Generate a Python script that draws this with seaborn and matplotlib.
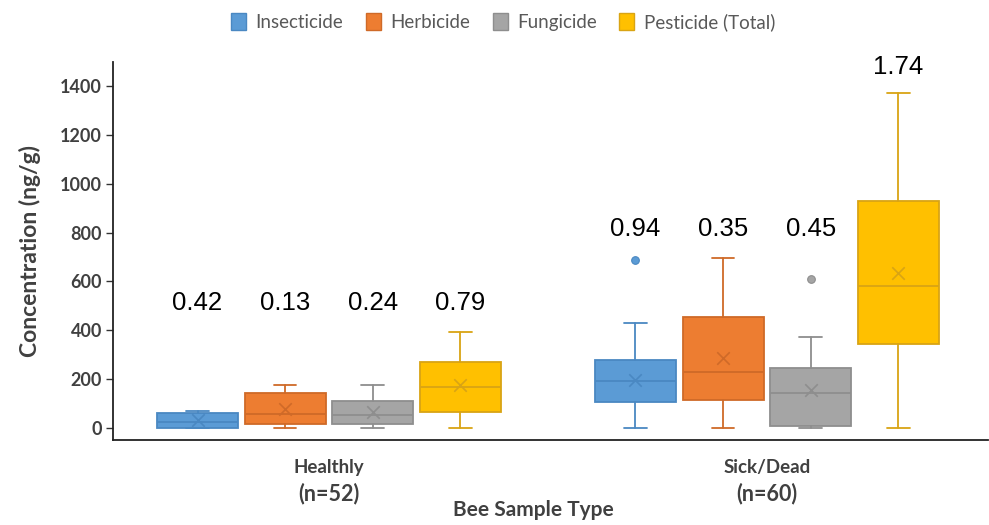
import numpy as np
import pandas as pd
import matplotlib
matplotlib.use("Agg")
import matplotlib.pyplot as plt
from matplotlib.patches import Patch
from matplotlib.transforms import blended_transform_factory
import seaborn as sns

# ---------------- data ----------------
groups = ["Healthly", "Sick/Dead"]
group_n = ["(n=52)", "(n=60)"]
types = ["Insecticide", "Herbicide", "Fungicide", "Pesticide (Total)"]

healthy_low = [0, 0, 0, 0]
healthy_q1 = [0, 16, 16, 67]
healthy_med = [23, 57, 54, 166]
healthy_q3 = [60, 143, 112, 271]
healthy_high = [71, 177, 177, 393]
healthy_mean = [33, 79, 67, 175]
healthy_outliers = [[], [], [], []]
healthy_labels = ["0.42", "0.13", "0.24", "0.79"]

sick_low = [0, 0, 0, 0]
sick_q1 = [106, 113, 8, 342]
sick_med = [192, 228, 144, 580]
sick_q3 = [277, 454, 244, 928]
sick_high = [431, 695, 371, 1373]
sick_mean = [195, 285, 154, 635]
sick_outliers = [[687], [], [611], []]
sick_labels = ["0.94", "0.35", "0.45", "1.74"]

yticks = [0, 200, 400, 600, 800, 1000, 1200, 1400]

# ---------------- styling ----------------
face_colors = ["#5B9BD5", "#ED7D31", "#A5A5A5", "#FFC000"]
edge_colors = ["#4A88C2", "#CF6A28", "#8E8E8E", "#D9A414"]
text_dark = "#404040"

sns.set_theme(style="white")
plt.rcParams["font.family"] = ["Lato", "DejaVu Sans"]

fig = plt.figure(figsize=(9.89, 5.25), dpi=100)
ax = fig.add_axes([113 / 989, 1 - 440 / 525, (988 - 113) / 989, (440 - 62) / 525])

stats_by_group = [
    (healthy_low, healthy_q1, healthy_med, healthy_q3, healthy_high, healthy_mean, healthy_outliers, healthy_labels),
    (sick_low, sick_q1, sick_med, sick_q3, sick_high, sick_mean, sick_outliers, sick_labels),
]

# mean markers via seaborn (dodged categorical positions)
rows = []
for g, st in zip(groups, stats_by_group):
    for t, m in zip(types, st[5]):
        rows.append({"group": g, "type": t, "mean": m})
mean_df = pd.DataFrame(rows)
sns.stripplot(data=mean_df, x="group", y="mean", hue="type", order=groups,
              hue_order=types, dodge=True, jitter=False, marker="x", size=9,
              linewidth=1.2, palette=edge_colors, legend=False, zorder=6, ax=ax)

n_types = len(types)
dodge_width = 0.8
step = dodge_width / n_types
box_w = step * 0.925

for gi, st in enumerate(stats_by_group):
    low, q1, med, q3, high, mean, outl, labs = st
    normal_tops = [h for h in high if h < 1000]
    row_y = max(normal_tops) + 118
    for ti in range(n_types):
        pos = gi - dodge_width / 2 + step * (ti + 0.5)
        s = dict(whislo=low[ti], q1=q1[ti], med=med[ti], q3=q3[ti],
                 whishi=high[ti], fliers=np.array(outl[ti], dtype=float))
        ec = edge_colors[ti]
        ax.bxp([s], positions=[pos], widths=box_w, capwidths=0.052,
               patch_artist=True, manage_ticks=False, showfliers=True,
               boxprops=dict(facecolor=face_colors[ti], edgecolor=ec, linewidth=1.3),
               medianprops=dict(color=ec, linewidth=1.3),
               whiskerprops=dict(color=ec, linewidth=1.3),
               capprops=dict(color=ec, linewidth=1.3),
               flierprops=dict(marker="o", markerfacecolor=face_colors[ti],
                               markeredgecolor=ec, markersize=5.5, markeredgewidth=0.8),
               zorder=3)
        ly = row_y if high[ti] < 1000 else high[ti] + 105
        ax.text(pos, ly, labs[ti], ha="center", va="center", fontsize=18.5,
                family=["Liberation Sans", "DejaVu Sans"], color="black")

ax.set_xlim(-0.493, 1.505)
ax.set_ylim(-49, 1498)
ax.set_yticks(yticks)
ax.set_yticklabels([str(v) for v in yticks], fontsize=13, fontweight="bold", color=text_dark)
ax.tick_params(axis="y", direction="out", length=5, width=1, color="#333333", pad=3, left=True)
ax.set_xticks([0, 1])
ax.set_xticklabels(groups, fontsize=13.5, fontweight="bold", color=text_dark)
ax.tick_params(axis="x", length=0, pad=14)

trans = blended_transform_factory(ax.transData, fig.transFigure)
for gi, n in enumerate(group_n):
    ax.text(gi, 1 - 494 / 525, n, transform=trans, ha="center", va="center",
            fontsize=15.5, fontweight="bold", color=text_dark)

ax.set_xlabel("Bee Sample Type", fontsize=15, fontweight="bold", color=text_dark, va="center")
ax.xaxis.set_label_coords((533 - 113) / (988 - 113), (440 - 510) / (440 - 62))
ax.set_ylabel("Concentration (ng/g)", fontsize=16.5, fontweight="bold", color=text_dark, va="center")
ax.yaxis.set_label_coords((30 - 113) / (988 - 113), 0.5)

for side in ["top", "right"]:
    ax.spines[side].set_visible(False)
for side in ["left", "bottom"]:
    ax.spines[side].set_color("#222222")
    ax.spines[side].set_linewidth(1.3)
ax.grid(False)

handles = [Patch(facecolor=fc, edgecolor=ec, linewidth=1.0) for fc, ec in zip(face_colors, edge_colors)]
fig.legend(handles, types, loc="center", bbox_to_anchor=(503 / 989, 1 - 22 / 525), ncol=4,
           frameon=False, fontsize=13.5, handlelength=0.8, handleheight=1.0,
           handletextpad=0.5, columnspacing=1.2, labelcolor="#595959")

fig.savefig("out.png", dpi=100, facecolor="white")
